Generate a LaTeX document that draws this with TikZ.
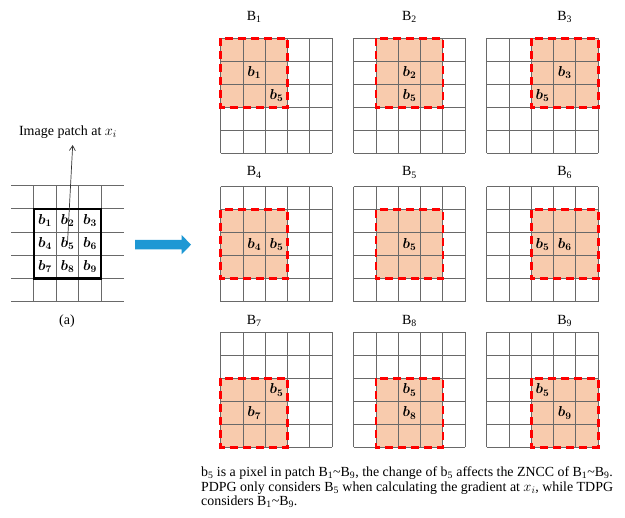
\documentclass[tikz,border=0pt]{standalone}
\usepackage{fontspec}
\setmainfont{Liberation Serif}
\usepackage{bm}
\usetikzlibrary{arrows.meta}
\definecolor{patchfill}{RGB}{248,203,173}
\definecolor{patchred}{RGB}{255,0,0}
\definecolor{gridgrey}{RGB}{105,105,105}
\definecolor{arrowblue}{RGB}{30,152,212}
\tikzset{
    gridline/.style={draw=gridgrey, line width=0.9pt},
    patchborder/.style={draw=patchred, line width=2.6pt, dash pattern=on 8pt off 5pt},
    patchframe/.style={draw=black, line width=2.2pt},
    celltext/.style={font=\fontsize{14}{16}\selectfont, inner sep=0pt},
    titletext/.style={font=\fontsize{14}{16}\selectfont, inner sep=0pt},
    captiontext/.style={font=\fontsize{13.9}{14.6}\selectfont, inner sep=0pt, align=left},
    thinarrow/.style={-{Straight Barb[length=5pt,width=6pt]}, draw=black!80, line width=0.7pt}
}
\begin{document}
\begin{tikzpicture}[x=1pt,y=-1pt]
    \useasboundingbox (0,0) rectangle (625,518);
    % image at x_i
    \foreach \r in {0,...,5}
        \draw[gridline] (11.2,{185.7+23.2*\r}) -- ++(112.5,0);
    \foreach \c in {1,...,4}
        \draw[gridline] ({11.2+22.5*\c},185.7) -- ++(0,116);
    \draw[patchframe] (33.7,208.9) rectangle (101.2,278.5);
    \foreach \k [count=\n from 0] in {1,...,9}
        \node[celltext] (lb\k) at ({11.2+22.5*(1.5+mod(\n,3))},{185.7+23.2*(1.5+int(\n/3))}) {$\bm{b_{\k}}$};
    \node[titletext] (patch) at (68,132) {Image patch at $x_i$};
    \coordinate (tip) at (72.7,145);
    \draw[thinarrow] (lb5.center) -- (tip);
    \node[titletext] (sub) at (67,321) {(a)};
    % big arrow
    \fill[arrowblue] (135,240) -- (181.7,240) -- (181.7,235) -- (191,244.7)
        -- (181.7,254.3) -- (181.7,249.3) -- (135,249.3) -- cycle;
    % patches B1..B9
    \foreach \k [count=\n from 0] in {1,...,9}{
        \pgfmathsetmacro{\pc}{mod(\n,3)}
        \pgfmathsetmacro{\pr}{int(\n/3)}
        \pgfmathsetmacro{\gx}{220.7+133*\pc}
        \pgfmathsetmacro{\gy}{\pr==0 ? 38.3 : (\pr==1 ? 186.7 : 332.5)}
        \pgfmathsetmacro{\ly}{\pr==0 ? 17 : (\pr==1 ? 172.5 : 321)}
        \fill[patchfill] ({\gx+22.3*\pc},{\gy+23*\pr}) rectangle ++(66.9,69);
        \foreach \r in {0,...,5}
            \draw[gridline] (\gx,{\gy+23*\r}) -- ++(111.5,0);
        \foreach \c in {0,...,5}
            \draw[gridline] ({\gx+22.3*\c},\gy) -- ++(0,115);
        \draw[patchborder] ({\gx+22.3*\pc},{\gy+23*\pr}) rectangle ++(66.9,69);
        \node[titletext] (title\k) at ({\gx+22.3*(\pc+1.5)},\ly) {B\textsubscript{\k}};
        \node[celltext] (pf\k) at ({\gx+22.3*2.5},{\gy+23*2.5}) {$\bm{b_{5}}$};
        \ifnum\k=5 \else
            \node[celltext] (pb\k) at ({\gx+22.3*(\pc+1.5)},{\gy+23*(\pr+1.5)}) {$\bm{b_{\k}}$};
        \fi
    }
    % caption
    \node[captiontext, anchor=north west] (caption) at (201,466.5)
        {b\textsubscript{5} is a pixel in patch B\textsubscript{1}\textasciitilde B\textsubscript{9}, the change of b\textsubscript{5} affects the ZNCC of B\textsubscript{1}\textasciitilde B\textsubscript{9}.\\
         PDPG only considers B\textsubscript{5} when calculating the gradient at $x_i$, while TDPG\\
         considers B\textsubscript{1}\textasciitilde B\textsubscript{9}.};
\end{tikzpicture}
\end{document}
